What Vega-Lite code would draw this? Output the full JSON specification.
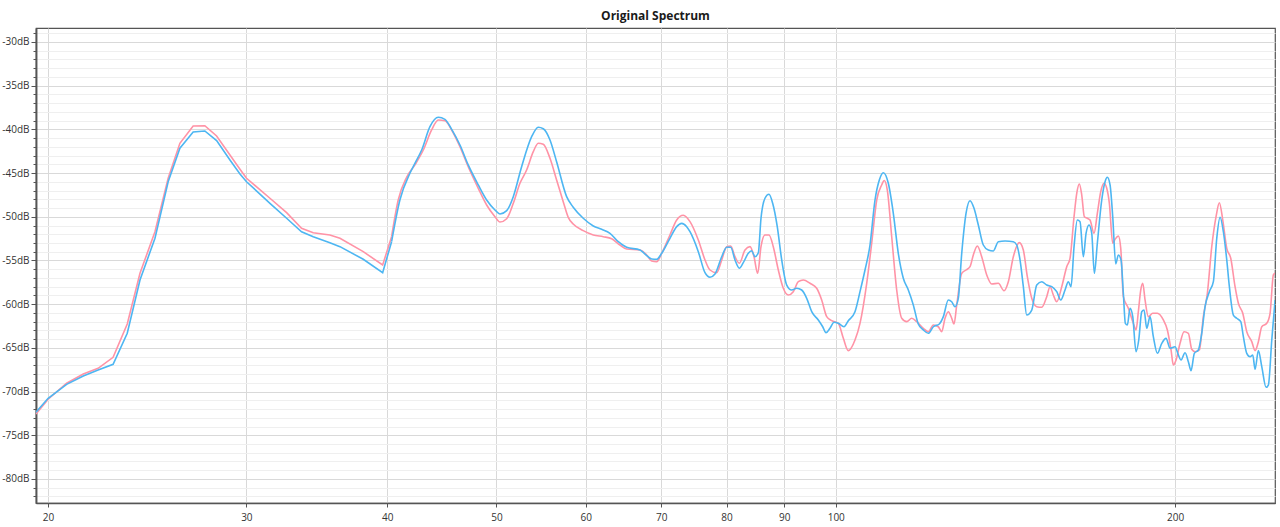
{
  "$schema": "https://vega.github.io/schema/vega-lite/v6.json",
  "width": 1239,
  "height": 475,
  "autosize": {"type": "none"},
  "padding": {"left": 36, "top": 28, "right": 5, "bottom": 24},
  "background": "white",
  "title": {"text": "Original Spectrum", "fontSize": 12, "font": "Open Sans", "fontWeight": "bold", "color": "#1a1a1a", "offset": 5, "anchor": "middle"},
  "config": {
    "view": {"stroke": "#555", "strokeWidth": 1.2},
    "axis": {"labelFont": "Open Sans", "labelFontSize": 10, "labelColor": "#333", "domainColor": "#555", "domainWidth": 1.5, "tickColor": "#555", "title": null}
  },
  "datasets": {
    "blue": [
      {"f":19.52,"db":-72.37},{"f":20.01,"db":-70.77},{"f":20.78,"db":-69.17},{"f":21.50,"db":-68.22},{"f":22.16,"db":-67.53},{"f":22.85,"db":-66.88},{"f":23.52,"db":-63.33},{"f":24.14,"db":-57.23},{"f":24.89,"db":-52.46},{"f":25.57,"db":-45.99},{"f":26.19,"db":-42.16},{"f":26.91,"db":-40.30},{"f":27.56,"db":-40.18},{"f":28.23,"db":-41.29},{"f":29.01,"db":-43.50},{"f":29.61,"db":-45.10},{"f":30.01,"db":-45.99},{"f":31.48,"db":-48.46},{"f":32.57,"db":-50.17},{"f":33.58,"db":-51.71},{"f":34.39,"db":-52.28},{"f":35.58,"db":-52.96},{"f":36.32,"db":-53.42},{"f":38.09,"db":-54.86},{"f":39.63,"db":-56.40},{"f":40.36,"db":-52.85},{"f":41.05,"db":-48.08},{"f":41.90,"db":-45.02},{"f":42.33,"db":-43.88},{"f":42.92,"db":-42.36},{"f":43.65,"db":-39.69},{"f":44.40,"db":-38.62},{"f":45.01,"db":-38.85},{"f":45.63,"db":-39.99},{"f":46.41,"db":-41.79},{"f":47.20,"db":-44.07},{"f":48.18,"db":-46.36},{"f":49.01,"db":-48.08},{"f":49.85,"db":-49.22},{"f":50.36,"db":-49.68},{"f":51.06,"db":-49.30},{"f":51.75,"db":-47.70},{"f":52.64,"db":-44.27},{"f":53.73,"db":-40.84},{"f":54.46,"db":-39.76},{"f":55.02,"db":-39.92},{"f":55.78,"db":-41.21},{"f":56.54,"db":-43.70},{"f":57.71,"db":-47.70},{"f":58.49,"db":-48.91},{"f":59.70,"db":-50.17},{"f":60.94,"db":-51.05},{"f":61.99,"db":-51.43},{"f":63.05,"db":-51.89},{"f":64.13,"db":-52.85},{"f":65.24,"db":-53.49},{"f":67.04,"db":-53.80},{"f":67.73,"db":-54.26},{"f":68.66,"db":-54.83},{"f":69.36,"db":-54.86},{"f":70.08,"db":-54.18},{"f":71.27,"db":-52.46},{"f":72.26,"db":-51.13},{"f":73.00,"db":-50.75},{"f":73.75,"db":-51.13},{"f":74.25,"db":-51.71},{"f":75.52,"db":-53.99},{"f":76.56,"db":-56.40},{"f":77.34,"db":-56.92},{"f":78.14,"db":-56.55},{"f":79.22,"db":-54.57},{"f":80.03,"db":-53.49},{"f":80.69,"db":-53.49},{"f":81.40,"db":-54.94},{"f":82.12,"db":-55.89},{"f":82.79,"db":-55.25},{"f":83.64,"db":-54.18},{"f":84.22,"db":-53.88},{"f":84.79,"db":-54.57},{"f":85.37,"db":-54.11},{"f":85.84,"db":-50.17},{"f":86.54,"db":-47.88},{"f":87.25,"db":-47.43},{"f":87.91,"db":-48.46},{"f":88.74,"db":-51.13},{"f":89.55,"db":-54.94},{"f":90.47,"db":-57.81},{"f":91.39,"db":-58.38},{"f":92.33,"db":-58.18},{"f":93.28,"db":-58.38},{"f":94.24,"db":-59.33},{"f":95.21,"db":-60.86},{"f":96.50,"db":-61.81},{"f":97.37,"db":-62.58},{"f":98.03,"db":-63.26},{"f":98.83,"db":-62.76},{"f":99.64,"db":-62.07},{"f":100.52,"db":-62.19},{"f":101.70,"db":-62.58},{"f":102.60,"db":-61.89},{"f":104.01,"db":-60.86},{"f":105.08,"db":-58.57},{"f":106.16,"db":-56.09},{"f":107.25,"db":-53.23},{"f":108.35,"db":-48.08},{"f":109.31,"db":-45.79},{"f":110.20,"db":-44.96},{"f":111.34,"db":-46.17},{"f":112.48,"db":-49.60},{"f":113.63,"db":-54.18},{"f":114.80,"db":-57.04},{"f":115.98,"db":-58.38},{"f":117.17,"db":-60.09},{"f":118.37,"db":-62.27},{"f":119.59,"db":-62.95},{"f":120.82,"db":-63.33},{"f":122.06,"db":-62.58},{"f":123.56,"db":-62.27},{"f":124.58,"db":-61.43},{"f":125.86,"db":-59.52},{"f":126.73,"db":-59.72},{"f":127.59,"db":-60.29},{"f":128.45,"db":-59.33},{"f":129.35,"db":-54.18},{"f":130.49,"db":-49.60},{"f":131.56,"db":-48.16},{"f":132.64,"db":-49.03},{"f":133.81,"db":-50.94},{"f":135.18,"db":-53.23},{"f":136.57,"db":-53.80},{"f":137.98,"db":-53.91},{"f":139.39,"db":-52.85},{"f":141.31,"db":-52.77},{"f":143.73,"db":-52.85},{"f":144.73,"db":-53.23},{"f":145.71,"db":-54.94},{"f":146.70,"db":-58.00},{"f":147.72,"db":-61.24},{"f":149.24,"db":-60.67},{"f":150.77,"db":-57.81},{"f":152.32,"db":-57.43},{"f":153.88,"db":-57.81},{"f":155.46,"db":-58.00},{"f":157.06,"db":-58.57},{"f":158.35,"db":-59.52},{"f":159.74,"db":-58.38},{"f":160.82,"db":-57.43},{"f":161.71,"db":-58.00},{"f":162.71,"db":-53.42},{"f":163.81,"db":-50.37},{"f":164.71,"db":-50.56},{"f":165.83,"db":-54.57},{"f":166.75,"db":-51.89},{"f":167.77,"db":-50.94},{"f":168.70,"db":-51.89},{"f":169.60,"db":-56.47},{"f":170.64,"db":-53.03},{"f":172.18,"db":-48.08},{"f":173.35,"db":-45.99},{"f":174.16,"db":-45.48},{"f":175.13,"db":-46.36},{"f":176.09,"db":-49.99},{"f":177.18,"db":-55.40},{"f":178.12,"db":-54.37},{"f":179.11,"db":-54.94},{"f":179.95,"db":-58.75},{"f":180.69,"db":-62.19},{"f":181.43,"db":-62.38},{"f":182.43,"db":-60.47},{"f":183.44,"db":-61.43},{"f":184.68,"db":-65.44},{"f":185.70,"db":-64.10},{"f":186.84,"db":-60.86},{"f":187.72,"db":-60.67},{"f":188.76,"db":-62.76},{"f":190.04,"db":-61.43},{"f":191.32,"db":-63.72},{"f":192.90,"db":-65.62},{"f":194.64,"db":-64.48},{"f":196.35,"db":-63.91},{"f":197.97,"db":-65.05},{"f":200.00,"db":-64.87},{"f":201.35,"db":-65.81},{"f":202.47,"db":-66.39},{"f":204.13,"db":-65.55},{"f":205.51,"db":-66.58},{"f":206.64,"db":-67.61},{"f":208.04,"db":-65.62},{"f":209.75,"db":-65.24},{"f":211.21,"db":-63.33},{"f":212.64,"db":-60.29},{"f":214.52,"db":-58.57},{"f":216.28,"db":-57.43},{"f":217.79,"db":-52.46},{"f":219.26,"db":-50.06},{"f":220.75,"db":-51.71},{"f":222.28,"db":-54.94},{"f":223.47,"db":-58.00},{"f":225.30,"db":-61.24},{"f":226.87,"db":-61.61},{"f":228.73,"db":-62.00},{"f":229.95,"db":-63.72},{"f":231.55,"db":-65.62},{"f":233.12,"db":-66.01},{"f":234.41,"db":-65.81},{"f":235.51,"db":-67.45},{"f":237.11,"db":-65.32},{"f":238.76,"db":-67.15},{"f":240.87,"db":-69.51},{"f":242.00,"db":-69.25},{"f":243.69,"db":-64.10},{"f":245.34,"db":-59.52}
    ],
    "pink": [
      {"f":19.52,"db":-72.57},{"f":20.01,"db":-70.88},{"f":20.78,"db":-69.05},{"f":21.50,"db":-67.99},{"f":22.16,"db":-67.34},{"f":22.85,"db":-66.08},{"f":23.52,"db":-62.27},{"f":24.14,"db":-56.47},{"f":24.89,"db":-51.71},{"f":25.57,"db":-45.60},{"f":26.19,"db":-41.59},{"f":26.91,"db":-39.61},{"f":27.56,"db":-39.58},{"f":28.23,"db":-40.76},{"f":29.01,"db":-42.93},{"f":29.61,"db":-44.57},{"f":30.01,"db":-45.60},{"f":31.48,"db":-47.88},{"f":32.57,"db":-49.53},{"f":33.58,"db":-51.32},{"f":34.39,"db":-51.82},{"f":35.58,"db":-52.08},{"f":36.32,"db":-52.46},{"f":38.09,"db":-53.99},{"f":39.63,"db":-55.52},{"f":40.36,"db":-52.28},{"f":40.91,"db":-48.08},{"f":41.62,"db":-45.48},{"f":42.33,"db":-44.07},{"f":43.06,"db":-42.36},{"f":43.80,"db":-40.07},{"f":44.40,"db":-38.93},{"f":45.01,"db":-39.01},{"f":45.63,"db":-40.07},{"f":46.41,"db":-41.98},{"f":47.20,"db":-44.27},{"f":48.18,"db":-46.74},{"f":49.01,"db":-48.65},{"f":49.85,"db":-49.99},{"f":50.36,"db":-50.60},{"f":51.06,"db":-50.22},{"f":51.75,"db":-48.46},{"f":52.46,"db":-46.17},{"f":53.18,"db":-44.65},{"f":53.91,"db":-42.55},{"f":54.46,"db":-41.59},{"f":55.02,"db":-41.71},{"f":55.78,"db":-43.31},{"f":56.54,"db":-45.79},{"f":57.31,"db":-48.27},{"f":57.90,"db":-50.06},{"f":58.49,"db":-50.83},{"f":59.70,"db":-51.59},{"f":60.94,"db":-52.08},{"f":62.19,"db":-52.28},{"f":63.27,"db":-52.51},{"f":64.35,"db":-53.23},{"f":65.24,"db":-53.69},{"f":67.04,"db":-53.80},{"f":67.96,"db":-54.37},{"f":68.66,"db":-55.06},{"f":69.36,"db":-55.14},{"f":70.08,"db":-54.18},{"f":71.27,"db":-52.08},{"f":72.26,"db":-50.37},{"f":73.24,"db":-49.83},{"f":74.25,"db":-50.56},{"f":75.52,"db":-52.66},{"f":76.56,"db":-54.94},{"f":77.34,"db":-56.09},{"f":78.41,"db":-56.40},{"f":79.22,"db":-54.94},{"f":80.03,"db":-53.42},{"f":80.69,"db":-53.34},{"f":81.40,"db":-54.57},{"f":82.12,"db":-55.32},{"f":83.08,"db":-53.80},{"f":83.93,"db":-53.42},{"f":84.62,"db":-54.57},{"f":85.26,"db":-56.47},{"f":85.84,"db":-53.42},{"f":86.54,"db":-52.08},{"f":87.25,"db":-52.08},{"f":88.02,"db":-53.42},{"f":88.93,"db":-56.09},{"f":89.84,"db":-58.18},{"f":90.76,"db":-58.95},{"f":91.69,"db":-58.57},{"f":92.64,"db":-57.43},{"f":93.59,"db":-57.23},{"f":94.88,"db":-57.61},{"f":96.18,"db":-58.18},{"f":97.17,"db":-59.52},{"f":98.17,"db":-61.43},{"f":99.18,"db":-61.89},{"f":100.52,"db":-62.19},{"f":101.56,"db":-63.90},{"f":102.60,"db":-65.32},{"f":104.01,"db":-64.10},{"f":105.08,"db":-62.19},{"f":106.53,"db":-57.61},{"f":107.62,"db":-53.03},{"f":108.73,"db":-48.08},{"f":109.84,"db":-46.36},{"f":110.41,"db":-45.85},{"f":111.11,"db":-46.94},{"f":112.11,"db":-52.28},{"f":113.26,"db":-58.38},{"f":114.43,"db":-61.61},{"f":115.60,"db":-62.00},{"f":116.79,"db":-61.61},{"f":117.99,"db":-62.00},{"f":119.59,"db":-62.76},{"f":120.82,"db":-63.15},{"f":122.06,"db":-62.38},{"f":123.31,"db":-62.58},{"f":124.17,"db":-63.15},{"f":125.01,"db":-61.61},{"f":125.86,"db":-60.86},{"f":126.73,"db":-61.61},{"f":127.33,"db":-62.27},{"f":128.04,"db":-60.09},{"f":129.35,"db":-56.47},{"f":130.49,"db":-56.09},{"f":131.56,"db":-55.71},{"f":132.45,"db":-54.37},{"f":133.54,"db":-53.34},{"f":134.74,"db":-54.57},{"f":136.13,"db":-56.66},{"f":137.52,"db":-57.69},{"f":139.39,"db":-57.61},{"f":141.02,"db":-58.46},{"f":142.27,"db":-57.43},{"f":143.73,"db":-54.57},{"f":145.50,"db":-52.96},{"f":146.70,"db":-53.80},{"f":147.90,"db":-56.86},{"f":149.24,"db":-59.33},{"f":150.77,"db":-60.29},{"f":152.32,"db":-60.36},{"f":153.88,"db":-59.14},{"f":154.92,"db":-58.00},{"f":155.97,"db":-58.95},{"f":157.06,"db":-59.72},{"f":158.67,"db":-58.00},{"f":160.30,"db":-55.71},{"f":161.38,"db":-54.75},{"f":162.71,"db":-49.99},{"f":163.61,"db":-47.31},{"f":164.48,"db":-46.25},{"f":165.29,"db":-47.51},{"f":166.17,"db":-49.99},{"f":167.19,"db":-50.17},{"f":168.11,"db":-50.37},{"f":169.49,"db":-51.89},{"f":170.64,"db":-49.60},{"f":171.83,"db":-47.13},{"f":172.99,"db":-46.17},{"f":173.95,"db":-46.74},{"f":174.88,"db":-48.46},{"f":176.09,"db":-53.03},{"f":176.92,"db":-52.58},{"f":178.12,"db":-52.20},{"f":179.00,"db":-53.61},{"f":179.95,"db":-59.14},{"f":181.80,"db":-60.47},{"f":183.66,"db":-62.19},{"f":184.68,"db":-62.95},{"f":185.55,"db":-60.86},{"f":186.46,"db":-58.38},{"f":187.23,"db":-57.61},{"f":188.11,"db":-59.52},{"f":189.38,"db":-61.43},{"f":191.09,"db":-61.04},{"f":192.90,"db":-61.04},{"f":195.27,"db":-61.81},{"f":196.88,"db":-62.95},{"f":198.37,"db":-65.24},{"f":199.31,"db":-66.96},{"f":200.41,"db":-66.39},{"f":202.05,"db":-64.48},{"f":203.71,"db":-63.15},{"f":205.51,"db":-63.33},{"f":206.94,"db":-65.16},{"f":208.34,"db":-65.44},{"f":210.18,"db":-65.24},{"f":211.90,"db":-61.43},{"f":213.64,"db":-58.75},{"f":215.57,"db":-53.42},{"f":217.47,"db":-49.99},{"f":218.94,"db":-48.39},{"f":220.47,"db":-50.37},{"f":222.28,"db":-53.61},{"f":224.10,"db":-54.75},{"f":226.08,"db":-58.00},{"f":227.61,"db":-59.90},{"f":229.67,"db":-61.04},{"f":231.55,"db":-63.15},{"f":233.93,"db":-64.29},{"f":235.51,"db":-65.32},{"f":237.11,"db":-64.29},{"f":238.76,"db":-62.58},{"f":241.21,"db":-62.19},{"f":242.84,"db":-61.04},{"f":244.49,"db":-56.66},{"f":245.34,"db":-56.47}
    ]
  },
  "layer": [
    {
      "data": {"name": "pink"},
      "transform": [{"filter": "datum.f <= 40.4"}],
      "mark": {"type": "line", "color": "#FF93A6", "strokeWidth": 1.6, "clip": true},
      "encoding": {
        "x": {"field": "f", "type": "quantitative", "scale": {"type": "log", "domain": [19.52, 245.3], "nice": false},
          "axis": {"values": [20, 30, 40, 50, 60, 70, 80, 90, 100, 200], "grid": true, "gridColor": "#d9d9d9", "gridWidth": 1, "tickSize": 4, "labelPadding": 5, "format": "d"}},
        "y": {"field": "db", "type": "quantitative", "scale": {"domain": [-82.75, -28.4], "nice": false, "zero": false},
          "axis": {"values": [-82, -81, -79, -78, -77, -76, -74, -73, -72, -71, -69, -68, -67, -66, -64, -63, -62, -61, -59, -58, -57, -56, -54, -53, -52, -51, -49, -48, -47, -46, -44, -43, -42, -41, -39, -38, -37, -36, -34, -33, -32, -31, -29],
            "labels": false, "tickSize": 3, "grid": true, "gridColor": "#efefef", "orient": "left"}}
      }
    },
    {
      "data": {"name": "pink"},
      "transform": [{"filter": "datum.f >= 40.3"}],
      "mark": {"type": "line", "color": "#FF93A6", "strokeWidth": 1.6, "clip": true, "interpolate": "monotone"},
      "encoding": {
        "x": {"field": "f", "type": "quantitative"},
        "y": {"field": "db", "type": "quantitative", "axis": null}
      }
    },
    {
      "data": {"name": "blue"},
      "transform": [{"filter": "datum.f <= 40.4"}],
      "mark": {"type": "line", "color": "#4DB6F2", "strokeWidth": 1.6, "clip": true},
      "encoding": {
        "x": {"field": "f", "type": "quantitative"},
        "y": {"field": "db", "type": "quantitative",
          "axis": {"values": [-80, -75, -70, -65, -60, -55, -50, -45, -40, -35, -30], "labelExpr": "datum.value + 'dB'", "tickSize": 5, "grid": true, "gridColor": "#d9d9d9", "orient": "left", "labelPadding": 2}}
      }
    },
    {
      "data": {"name": "blue"},
      "transform": [{"filter": "datum.f >= 40.3"}],
      "mark": {"type": "line", "color": "#4DB6F2", "strokeWidth": 1.6, "clip": true, "interpolate": "monotone"},
      "encoding": {
        "x": {"field": "f", "type": "quantitative"},
        "y": {"field": "db", "type": "quantitative", "axis": null}
      }
    }
  ],
  "resolve": {"axis": {"y": "independent"}}
}
